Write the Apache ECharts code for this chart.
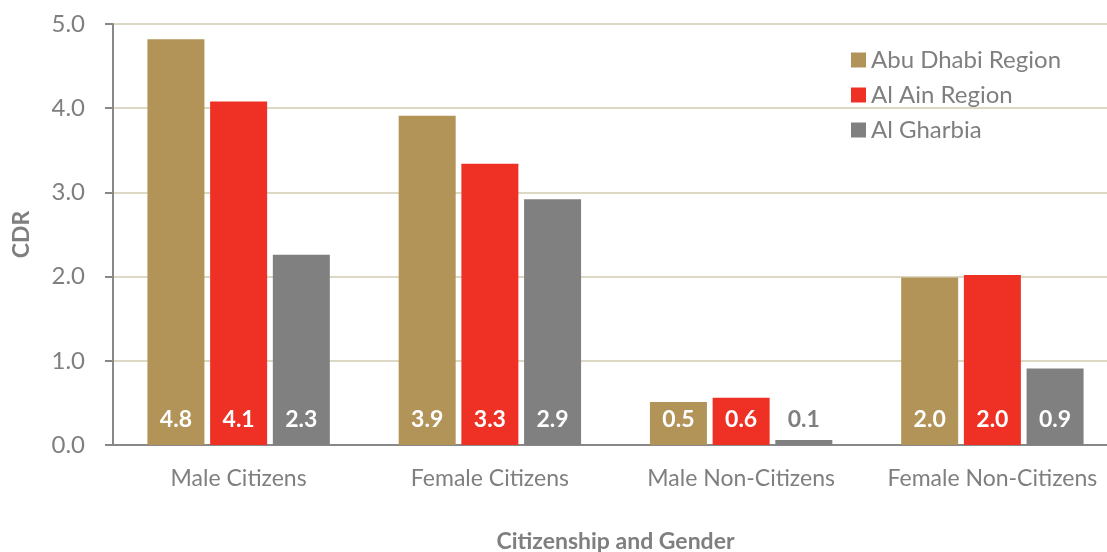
<!DOCTYPE html>
<html>
<head>
<meta charset="utf-8">
<script src="https://cdn.jsdelivr.net/npm/echarts@6/dist/echarts.min.js"></script>
<style>
  html, body { margin: 0; padding: 0; background: #fff; }
  #chart { width: 1107px; height: 552px; }
</style>
</head>
<body>
<div id="chart"></div>
<script>
const categories = ['Male Citizens', 'Female Citizens', 'Male Non-Citizens', 'Female Non-Citizens'];
const abuDhabi = [4.82, 3.91, 0.51, 1.99];
const alAin = [4.08, 3.34, 0.56, 2.02];
const alGharbia = [2.26, 2.92, 0.06, 0.91];
const yTicks = [0, 1, 2, 3, 4, 5];

const font = 'Lato, "Open Sans", sans-serif';
const grey = '#7f7f7f';

// label white inside the bar bottom; tiny bars get a grey label
function makeSeries(name, values, color) {
  return {
    name: name,
    type: 'bar',
    barWidth: 57,
    barGap: '10%',
    itemStyle: { color: color },
    label: {
      show: true,
      position: 'insideBottom',
      distance: 14,
      color: '#fff',
      fontFamily: font,
      fontWeight: 'bold',
      fontSize: 23,
      formatter: p => p.value.toFixed(1)
    },
    data: values.map(v => v < 0.2 ? { value: v, label: { color: grey } } : v)
  };
}

const myChart = echarts.init(document.getElementById('chart'));
const option = {
  animation: false,
  textStyle: { fontFamily: font },
  grid: { left: 113, right: -11, top: 24, bottom: 107, outerBoundsMode: 'none', containLabel: false },
  legend: {
    orient: 'vertical',
    left: 846,
    top: 43,
    itemWidth: 15,
    itemHeight: 15,
    itemGap: 11,
    icon: 'rect',
    textStyle: { color: grey, fontSize: 24, fontFamily: font },
    data: ['Abu Dhabi Region', 'Al Ain Region', 'Al Gharbia']
  },
  xAxis: {
    type: 'category',
    data: categories,
    name: 'Citizenship and Gender',
    nameLocation: 'middle',
    nameGap: 85,
    nameTextStyle: { color: grey, fontWeight: 'bold', fontSize: 23, fontFamily: font },
    axisLine: { lineStyle: { color: '#888', width: 2 } },
    axisTick: { show: false },
    axisLabel: { color: grey, fontSize: 23, margin: 22, interval: 0, fontFamily: font }
  },
  yAxis: {
    type: 'value',
    min: yTicks[0],
    max: yTicks[yTicks.length - 1],
    interval: 1,
    name: 'CDR',
    nameLocation: 'middle',
    nameGap: 80,
    nameTextStyle: { color: grey, fontWeight: 'bold', fontSize: 23, fontFamily: font },
    axisLine: { show: true, lineStyle: { color: '#888', width: 2 } },
    axisTick: { show: true, inside: false, length: 8, lineStyle: { color: '#888', width: 2 } },
    axisLabel: { color: grey, fontSize: 24, margin: 28, fontFamily: font, formatter: v => v.toFixed(1) },
    splitLine: { lineStyle: { color: '#ddd8c3', width: 2 } }
  },
  series: [
    makeSeries('Abu Dhabi Region', abuDhabi, '#b29459'),
    makeSeries('Al Ain Region', alAin, '#ee3124'),
    makeSeries('Al Gharbia', alGharbia, '#808080')
  ]
};
myChart.setOption(option);
window.addEventListener('resize', myChart.resize);
</script>
</body>
</html>
